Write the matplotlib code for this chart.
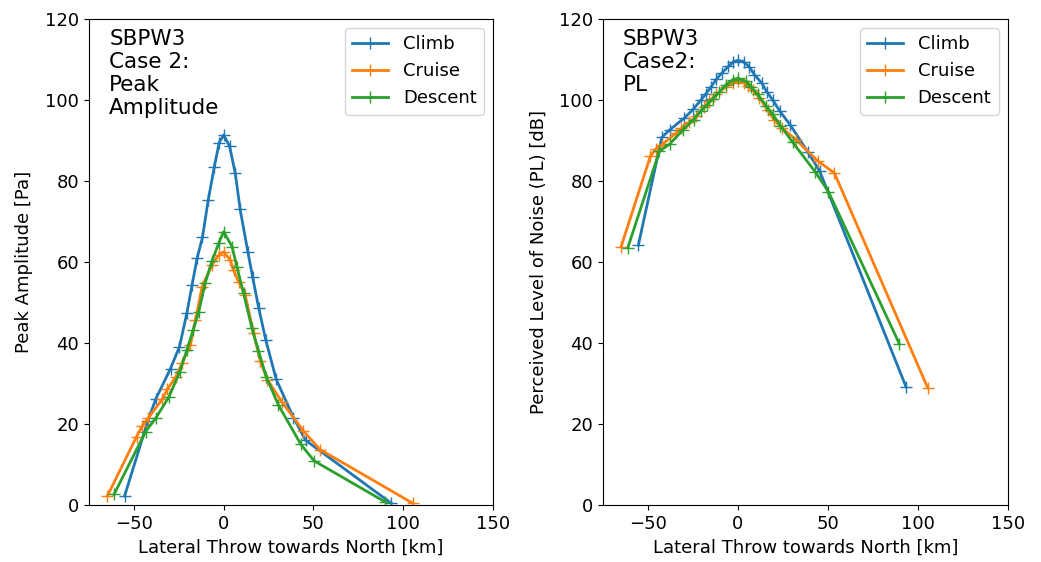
import matplotlib
matplotlib.use("Agg")
import matplotlib.pyplot as plt

# climb
climb_x = [-55.2, -42.2, -37.9, -29.6, -24.6, -20.5, -17.6, -14.8, -11.8, -8.6, -5.2, -2.5, 0,
           3.3, 6.5, 9.2, 13.5, 16.2, 19.5, 23.5, 29.3, 38.9, 45.6, 93.5]
climb_amp = [2.2, 20.8, 26.1, 33.7, 39.1, 47.4, 54.3, 60.9, 66.1, 75.3, 83.5, 89.5, 91.4,
             88.6, 81.9, 73.0, 62.5, 56.2, 48.7, 40.7, 31.0, 21.6, 16.0, 0.4]
climb_pl = [64.2, 90.8, 92.6, 95.6, 97.8, 100.0, 101.6, 103.3, 105.2, 106.8, 108.3, 109.4, 109.8,
            109.4, 108.2, 106.3, 104.1, 102.0, 100.0, 97.2, 93.8, 87.2, 82.4, 29.2]

# cruise
cruise_x = [-64.8, -48.5, -45.4, -42.0, -34.2, -31.4, -26.8, -23.1, -18.5, -15.7, -12.0, -6.5, -2.8, 0,
            3.7, 5.5, 8.5, 12.0, 16.7, 20.4, 24.4, 32.4, 44.4, 53.7, 105.5]
cruise_amp = [2.2, 16.9, 19.5, 21.5, 26.1, 28.6, 31.5, 35.1, 39.5, 45.7, 53.9, 59.3, 61.7, 62.5,
              60.5, 58.0, 55.0, 51.9, 42.4, 35.6, 30.9, 25.5, 18.3, 13.7, 0.4]
cruise_pl = [63.8, 86.2, 88.0, 89.0, 91.9, 93.0, 94.6, 96.0, 98.4, 99.8, 101.4, 103.3, 104.3, 104.6,
             104.2, 103.6, 102.4, 100.6, 97.5, 95.0, 93.2, 90.2, 85.0, 82.0, 29.0]

# descent
descent_x = [-61.1, -43.5, -37.9, -30.5, -24.4, -20.4, -17.0, -13.9, -10.2, -6.5, -2.8, 0,
             4.7, 7.4, 11.1, 15.8, 19.4, 23.7, 30.5, 43.0, 50.4, 89.8]
descent_amp = [2.6, 18.1, 21.4, 26.7, 32.9, 38.4, 43.2, 47.7, 54.9, 60.3, 64.6, 67.5,
               63.8, 58.8, 52.3, 43.6, 38.1, 31.7, 24.7, 15.0, 10.9, 0.8]
descent_pl = [63.5, 87.4, 89.1, 92.6, 95.2, 97.3, 98.8, 100.3, 102.0, 103.8, 105.0, 105.4,
              104.6, 103.3, 101.4, 98.6, 96.5, 93.7, 89.6, 82.3, 77.4, 39.8]

plt.rcParams['font.size'] = 13

fig = plt.figure(figsize=(10.41, 5.62), dpi=100)
ax1 = fig.add_axes([0.0855, 0.1014, 0.388, 0.8646])
ax2 = fig.add_axes([0.579, 0.1014, 0.389, 0.8646])

ax1.plot(climb_x, climb_amp, '+-', ms=9, lw=2, label="Climb")
ax1.plot(cruise_x, cruise_amp, '+-', ms=9, lw=2, label="Cruise")
ax1.plot(descent_x, descent_amp, '+-', ms=9, lw=2, label="Descent")
ax1.set_xlim(-75, 150)
ax1.set_ylim(0, 120)
ax1.set_xlabel("Lateral Throw towards North [km]")
ax1.set_ylabel("Peak Amplitude [Pa]", labelpad=9)
ax1.text(0.05, 0.98, "SBPW3\nCase 2:\nPeak\nAmplitude", transform=ax1.transAxes,
         va='top', ha='left', fontsize=15.5, linespacing=1.2)
ax1.legend(loc="upper right", fontsize=13)

ax2.plot(climb_x, climb_pl, '+-', ms=9, lw=2, label="Climb")
ax2.plot(cruise_x, cruise_pl, '+-', ms=9, lw=2, label="Cruise")
ax2.plot(descent_x, descent_pl, '+-', ms=9, lw=2, label="Descent")
ax2.set_xlim(-75, 150)
ax2.set_ylim(0, 120)
ax2.set_xlabel("Lateral Throw towards North [km]")
ax2.set_ylabel("Perceived Level of Noise (PL) [dB]", labelpad=8)
ax2.text(0.05, 0.98, "SBPW3\nCase2:\nPL", transform=ax2.transAxes,
         va='top', ha='left', fontsize=15.5, linespacing=1.2)
ax2.legend(loc="upper right", fontsize=13)

fig.savefig("out.png", dpi=100)
